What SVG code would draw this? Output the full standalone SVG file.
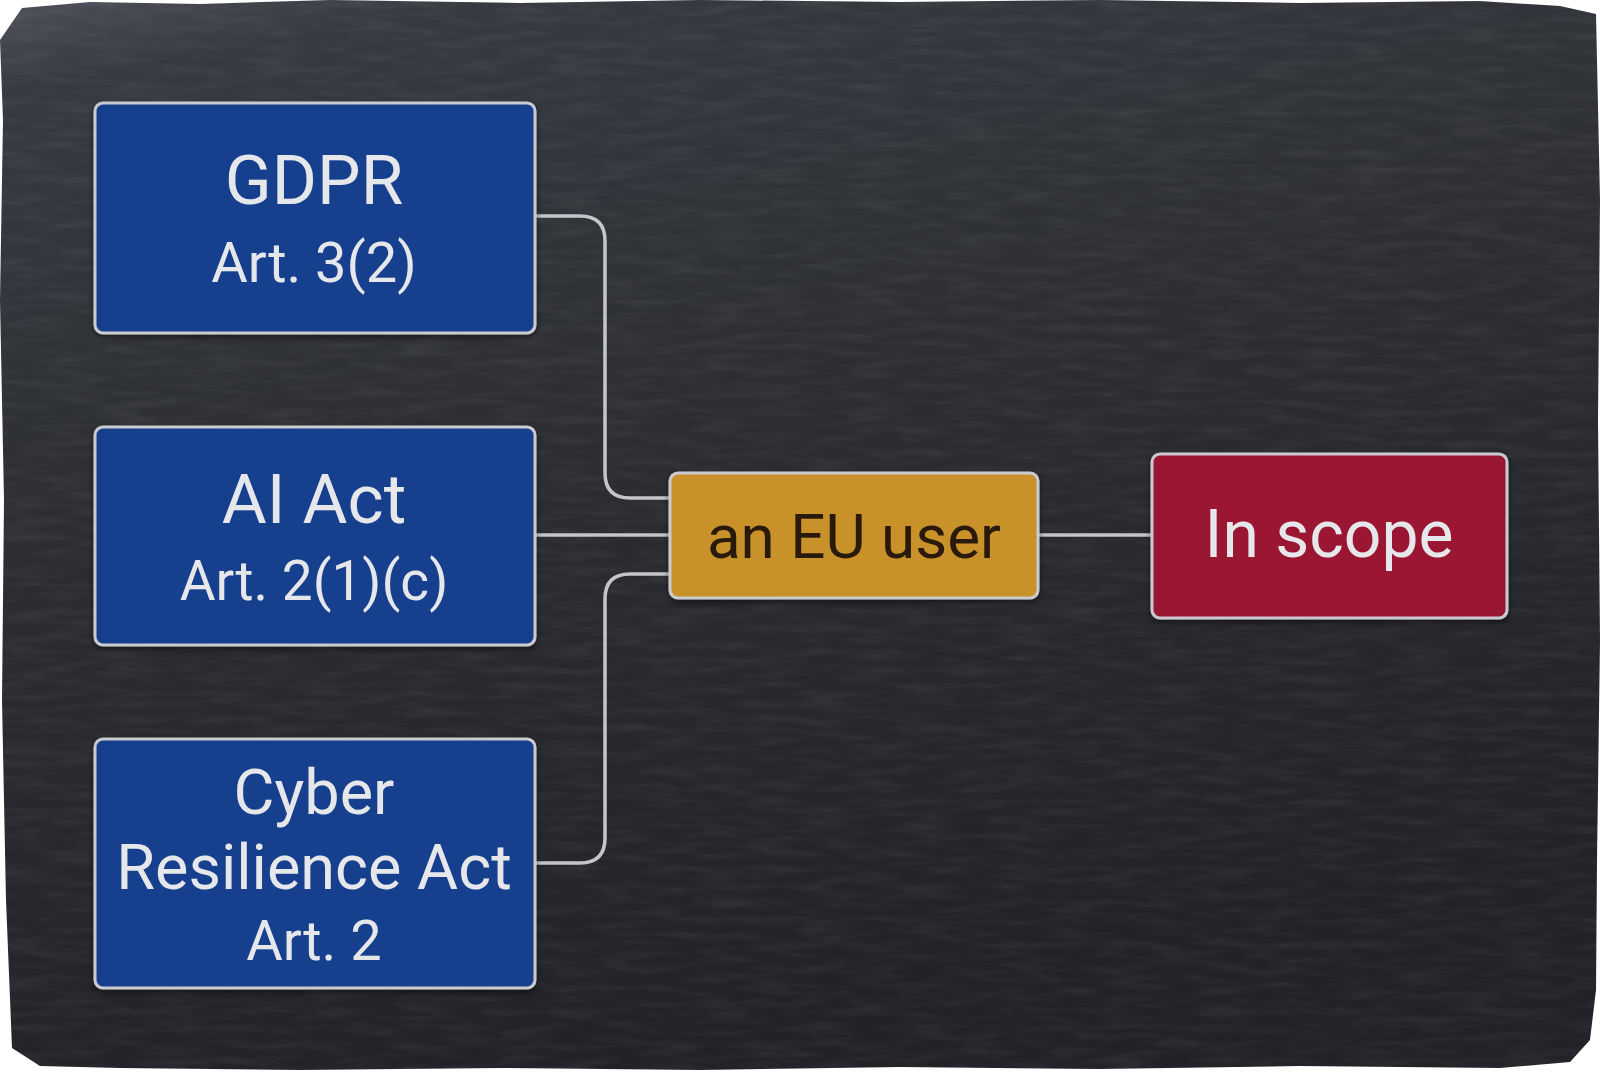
<svg xmlns="http://www.w3.org/2000/svg" width="1600" height="1073" viewBox="0 0 1600 1073">
<defs>
<linearGradient id="slate" x1="0" y1="0" x2="0.3" y2="1">
<stop offset="0" stop-color="#4d5058"/>
<stop offset="0.08" stop-color="#373a40"/>
<stop offset="0.5" stop-color="#2b2d32"/>
<stop offset="1" stop-color="#222328"/>
</linearGradient>
<filter id="tex" x="0" y="0" width="100%" height="100%">
<feTurbulence type="fractalNoise" baseFrequency="0.02 0.12" numOctaves="5" seed="7" result="n"/>
<feColorMatrix in="n" type="matrix" values="0 0 0 0 1  0 0 0 0 1  0 0 0 0 1  0.9 0 0 0 -0.35" result="a"/>
<feComposite in="a" in2="SourceGraphic" operator="in"/>
</filter>
<filter id="shadow" x="-5%" y="-5%" width="110%" height="115%">
<feDropShadow dx="0" dy="3" stdDeviation="3" flood-color="#000" flood-opacity="0.5"/>
</filter>
<style>
.box{stroke:#c9cbd0;stroke-width:3;filter:url(#shadow)}
.blue{fill:#193f8e}
.gold{fill:#c8912b}
.red{fill:#9b1430}
.t{font-family:Roboto,"Liberation Sans",sans-serif;text-anchor:middle;fill:#e6e7ea}
.dark{fill:#2a1a0a}
.conn{fill:none;stroke:#c4c6cb;stroke-width:3.5}
</style>
</defs>
<rect width="1600" height="1073" fill="#ffffff"/>
<g id="slate-bg">
<path d="M22,8 L90,2 L200,4 L330,0 L520,3 L700,0 L900,2 L1100,0 L1300,3 L1480,1 L1560,6 L1596,14 L1600,200 L1598,420 L1600,640 L1597,860 L1596,990 L1590,1040 L1570,1062 L1500,1068 L1300,1066 L1100,1069 L900,1067 L700,1070 L500,1068 L300,1070 L120,1068 L40,1066 L12,1048 L6,900 L2,700 L4,500 L0,300 L3,120 L0,40 Z" fill="url(#slate)"/>
<path d="M22,8 L90,2 L200,4 L330,0 L520,3 L700,0 L900,2 L1100,0 L1300,3 L1480,1 L1560,6 L1596,14 L1600,200 L1598,420 L1600,640 L1597,860 L1596,990 L1590,1040 L1570,1062 L1500,1068 L1300,1066 L1100,1069 L900,1067 L700,1070 L500,1068 L300,1070 L120,1068 L40,1066 L12,1048 L6,900 L2,700 L4,500 L0,300 L3,120 L0,40 Z" fill="#fff" opacity="0.12" filter="url(#tex)"/>
</g>
<g id="connectors">
<path class="conn" d="M535,216 H580 Q605,216 605,241 V473 Q605,498 630,498 H670"/>
<path class="conn" d="M535,535 H670"/>
<path class="conn" d="M535,863 H580 Q605,863 605,838 V599 Q605,574 630,574 H670"/>
<path class="conn" d="M1038,535 H1152"/>
</g>
<g id="gdpr">
<rect class="box blue" x="95" y="103" width="440" height="230" rx="8"/>
<text class="t" x="314" y="204" font-size="69">GDPR</text>
<text class="t" x="314" y="282" font-size="56">Art. 3(2)</text>
</g>
<g id="ai-act">
<rect class="box blue" x="95" y="427" width="440" height="218" rx="8"/>
<text class="t" x="314" y="523" font-size="69">AI Act</text>
<text class="t" x="314" y="600" font-size="55">Art. 2(1)(c)</text>
</g>
<g id="cra">
<rect class="box blue" x="95" y="739" width="440" height="249" rx="8"/>
<text class="t" x="314" y="814" font-size="63">Cyber</text>
<text class="t" x="314" y="889" font-size="63">Resilience Act</text>
<text class="t" x="314" y="960" font-size="56">Art. 2</text>
</g>
<g id="eu-user">
<rect class="box gold" x="670" y="473" width="368" height="125" rx="8"/>
<text class="t dark" x="854" y="558" font-size="62">an EU user</text>
</g>
<g id="in-scope">
<rect class="box red" x="1152" y="454" width="355" height="164" rx="8"/>
<text class="t" x="1329" y="557" font-size="66">In scope</text>
</g>
</svg>
